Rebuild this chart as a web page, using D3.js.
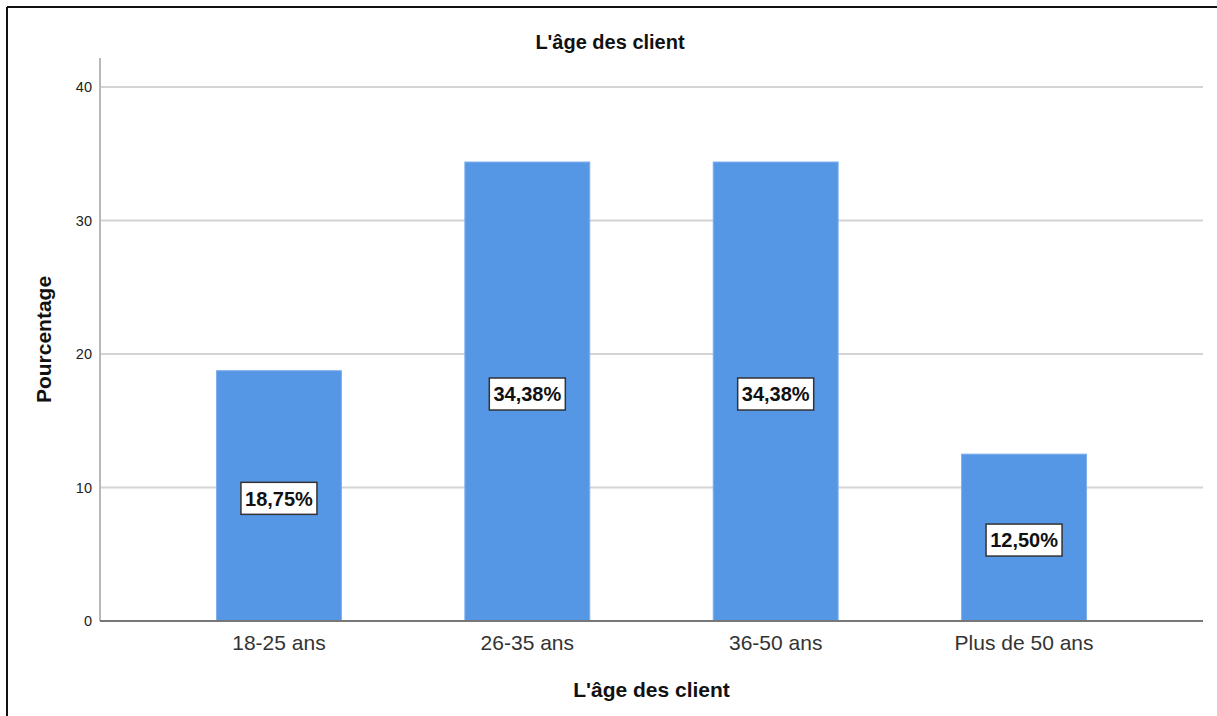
<!DOCTYPE html>
<html>
<head>
<meta charset="utf-8">
<script src="https://cdn.jsdelivr.net/npm/d3@7"></script>
<style>
  html, body { margin: 0; padding: 0; background: #fff; }
  svg { display: block; }
</style>
</head>
<body>
<svg id="chart" width="1217" height="716"></svg>
<script>
// Age groups of the clients and their share (%)
const categories = ["18-25 ans", "26-35 ans", "36-50 ans", "Plus de 50 ans"];
const percentages = [18.75, 34.38, 34.38, 12.50];
const valueLabels = ["18,75%", "34,38%", "34,38%", "12,50%"];
const yTicks = [0, 10, 20, 30, 40];

const chartTitle = "L'âge des client";
const xTitle = "L'âge des client";
const yTitle = "Pourcentage";

const svg = d3.select("#chart");
const font = "'Liberation Sans', Arial, sans-serif";

// Outer frame (left and top edges)
svg.append("line").attr("x1", 7).attr("x2", 7).attr("y1", 7).attr("y2", 716)
  .attr("stroke", "#111").attr("stroke-width", 2);
svg.append("line").attr("x1", 7).attr("x2", 1217).attr("y1", 7).attr("y2", 7)
  .attr("stroke", "#111").attr("stroke-width", 2);

const plot = { left: 100, right: 1203, top: 58, bottom: 621 };

const x = d3.scaleBand()
  .domain(categories)
  .range([plot.left, plot.right])
  .paddingInner(0.497)
  .paddingOuter(0.469);

const y = d3.scaleLinear()
  .domain([0, 40])
  .range([plot.bottom, plot.bottom - 534]);

// Horizontal gridlines
svg.append("g")
  .selectAll("line")
  .data(yTicks.filter(d => d > 0))
  .join("line")
  .attr("x1", plot.left).attr("x2", plot.right)
  .attr("y1", d => y(d)).attr("y2", d => y(d))
  .attr("stroke", "#d4d4d4").attr("stroke-width", 2);

// Y axis
const yAxis = svg.append("g")
  .attr("transform", `translate(${plot.left},0)`)
  .call(d3.axisLeft(y).tickValues(yTicks).tickSize(0).tickPadding(8));
yAxis.select(".domain").remove();
yAxis.selectAll("text")
  .attr("font-family", font).attr("font-size", 14.5).attr("fill", "#222");
svg.append("line")
  .attr("x1", plot.left).attr("x2", plot.left)
  .attr("y1", plot.top).attr("y2", plot.bottom)
  .attr("stroke", "#b8b8b8").attr("stroke-width", 2);

// Bars
svg.append("g")
  .selectAll("rect")
  .data(percentages)
  .join("rect")
  .attr("x", (d, i) => x(categories[i]))
  .attr("y", d => y(d))
  .attr("width", x.bandwidth())
  .attr("height", d => y(0) - y(d))
  .attr("fill", "#5596e5")
  .attr("stroke", "#7fb0ec")
  .attr("stroke-width", 1);

// X axis baseline
svg.append("line")
  .attr("x1", plot.left).attr("x2", plot.right)
  .attr("y1", plot.bottom).attr("y2", plot.bottom)
  .attr("stroke", "#777").attr("stroke-width", 2);

// Category labels
const xAxis = svg.append("g")
  .attr("transform", `translate(0,${plot.bottom})`)
  .call(d3.axisBottom(x).tickSize(0).tickPadding(14));
xAxis.select(".domain").remove();
xAxis.selectAll("text")
  .attr("font-family", font).attr("font-size", 21).attr("fill", "#333");

// Value labels in boxes, slightly below the middle of each bar
const labels = svg.append("g")
  .selectAll("g")
  .data(percentages)
  .join("g")
  .attr("transform", (d, i) =>
    `translate(${x(categories[i]) + x.bandwidth() / 2},${(y(d) + y(0)) / 2 + 2.5})`);
labels.append("rect")
  .attr("x", -38).attr("y", -16).attr("width", 76).attr("height", 32)
  .attr("fill", "#fff").attr("stroke", "#333").attr("stroke-width", 1.5);
labels.append("text")
  .attr("text-anchor", "middle")
  .attr("dy", "0.36em")
  .attr("font-family", font).attr("font-size", 20).attr("font-weight", "bold")
  .attr("fill", "#111")
  .text((d, i) => valueLabels[i]);

// Titles
svg.append("text")
  .attr("x", 610).attr("y", 49)
  .attr("text-anchor", "middle")
  .attr("font-family", font).attr("font-size", 20).attr("font-weight", "bold")
  .attr("fill", "#111")
  .text(chartTitle);

svg.append("text")
  .attr("x", (plot.left + plot.right) / 2).attr("y", 697)
  .attr("text-anchor", "middle")
  .attr("font-family", font).attr("font-size", 21).attr("font-weight", "bold")
  .attr("fill", "#111")
  .text(xTitle);

svg.append("text")
  .attr("transform", `translate(51,${(plot.top + plot.bottom) / 2}) rotate(-90)`)
  .attr("text-anchor", "middle")
  .attr("font-family", font).attr("font-size", 21).attr("font-weight", "bold")
  .attr("fill", "#111")
  .text(yTitle);
</script>
</body>
</html>
